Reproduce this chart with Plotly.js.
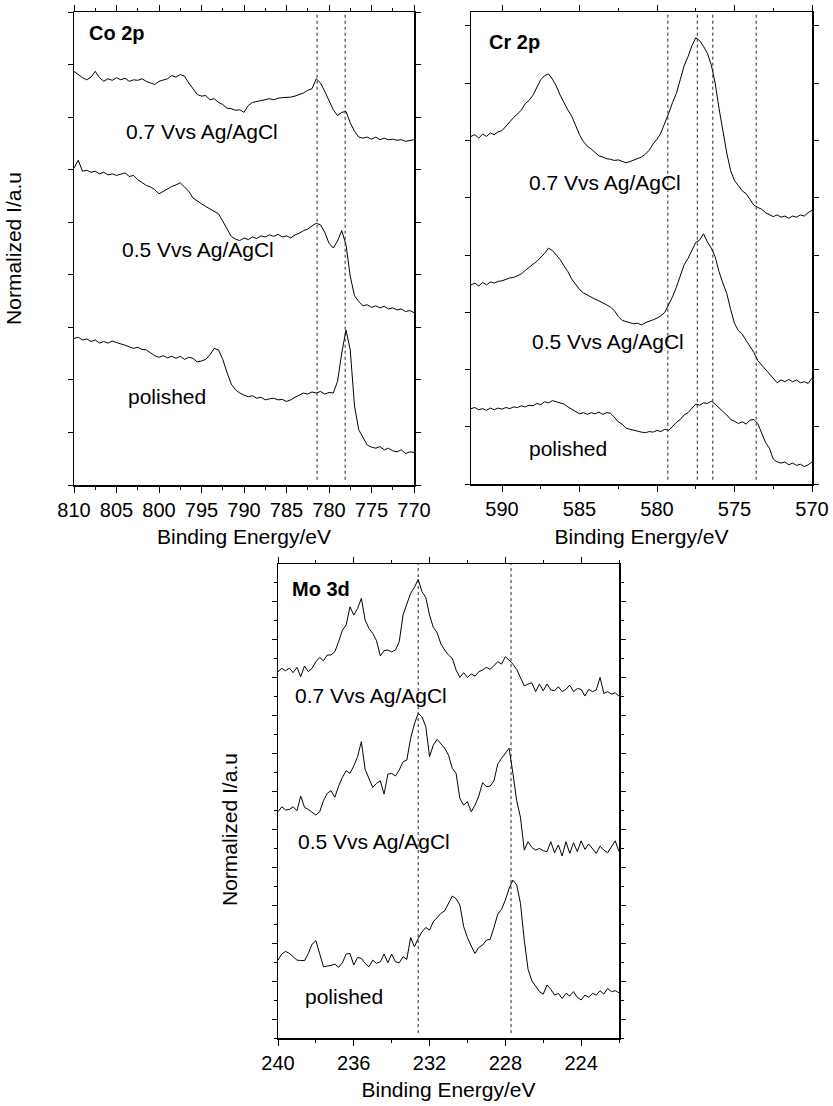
<!DOCTYPE html>
<html><head><meta charset="utf-8">
<script src="https://cdn.plot.ly/plotly-3.0.1.min.js"></script>
<style>html,body{margin:0;padding:0;background:#fff}#chart{width:833px;height:1106px}</style>
</head><body><div id="chart"></div>
<script>
// ---------- Co 2p (810 -> 770 eV, 0.5 eV step) ----------
const coStart = 810, coStep = -0.5, coN = 81;
const co07 = [7.87,7.81,7.75,7.71,7.76,7.87,7.75,7.68,7.73,7.70,
7.75,7.71,7.74,7.68,7.71,7.70,7.73,7.68,7.65,7.62,
7.68,7.71,7.73,7.79,7.76,7.81,7.78,7.65,7.54,7.43,
7.40,7.41,7.33,7.35,7.28,7.24,7.17,7.16,7.13,7.14,
7.09,7.22,7.28,7.30,7.32,7.33,7.35,7.33,7.36,7.37,
7.37,7.38,7.40,7.43,7.46,7.51,7.54,7.73,7.65,7.49,
7.33,7.14,7.03,7.09,7.11,6.89,6.73,6.62,6.60,6.62,
6.58,6.62,6.57,6.60,6.57,6.58,6.56,6.57,6.54,6.56,
6.57];
const co05 = [6.03,6.18,5.97,5.99,5.95,5.97,5.92,5.95,5.90,5.92,
5.89,5.91,5.94,5.87,5.89,5.81,5.76,5.70,5.67,5.62,
5.54,5.59,5.63,5.68,5.71,5.75,5.67,5.59,5.46,5.40,
5.35,5.30,5.25,5.21,5.16,5.02,4.86,4.73,4.68,4.65,
4.70,4.67,4.72,4.69,4.74,4.72,4.76,4.73,4.77,4.72,
4.74,4.70,4.76,4.79,4.84,4.87,4.93,4.98,4.95,4.81,
4.60,4.51,4.64,4.84,4.57,3.97,3.60,3.49,3.41,3.43,
3.38,3.41,3.37,3.40,3.35,3.37,3.33,3.35,3.30,3.32,
3.28];
const coPol = [2.79,2.81,2.76,2.78,2.73,2.76,2.70,2.73,2.70,2.74,
2.71,2.69,2.66,2.63,2.60,2.62,2.58,2.57,2.52,2.46,
2.43,2.46,2.42,2.45,2.41,2.45,2.39,2.43,2.41,2.34,
2.36,2.39,2.48,2.60,2.57,2.39,2.14,1.92,1.81,1.75,
1.71,1.68,1.70,1.65,1.67,1.62,1.64,1.65,1.62,1.63,
1.59,1.62,1.67,1.71,1.75,1.73,1.77,1.75,1.78,1.73,
1.76,1.75,1.97,2.51,2.95,2.57,1.50,1.05,0.89,0.76,
0.72,0.70,0.73,0.67,0.70,0.65,0.63,0.67,0.60,0.63,
0.62];
const coLines = [781.4, 778.1];

// ---------- Cr 2p (592 -> 570 eV, 0.25 eV step) ----------
const crStart = 592, crStep = -0.25, crN = 89;
const cr07 = [6.07,6.10,6.04,6.11,6.07,6.13,6.10,6.15,6.17,6.25,
6.31,6.40,6.46,6.53,6.64,6.70,6.79,6.93,7.06,7.13,
7.16,7.07,6.95,6.79,6.65,6.53,6.42,6.25,6.10,5.98,
5.90,5.85,5.79,5.73,5.71,5.68,5.67,5.65,5.66,5.63,
5.61,5.63,5.66,5.68,5.71,5.76,5.83,5.94,6.02,6.13,
6.29,6.47,6.66,6.82,7.06,7.30,7.46,7.65,7.79,7.74,
7.64,7.52,7.32,7.00,6.56,6.13,5.78,5.47,5.30,5.21,
5.12,5.07,4.96,4.87,4.83,4.80,4.74,4.70,4.67,4.70,
4.66,4.68,4.64,4.68,4.66,4.70,4.68,4.74,4.78];
const cr05 = [3.48,3.51,3.46,3.52,3.48,3.53,3.51,3.54,3.55,3.58,
3.60,3.61,3.64,3.67,3.73,3.79,3.84,3.89,3.96,4.03,
4.12,4.08,4.00,3.92,3.81,3.71,3.58,3.48,3.40,3.34,
3.30,3.26,3.23,3.20,3.17,3.13,3.09,3.03,2.93,2.86,
2.84,2.82,2.80,2.81,2.78,2.82,2.84,2.87,2.90,2.94,
3.00,3.13,3.27,3.44,3.62,3.83,3.94,4.08,4.22,4.26,
4.37,4.23,4.12,3.97,3.71,3.51,3.33,3.05,2.81,2.68,
2.62,2.51,2.40,2.30,2.16,2.08,2.01,1.94,1.85,1.77,
1.82,1.79,1.83,1.79,1.82,1.77,1.79,1.76,1.85];
const crPol = [1.32,1.34,1.30,1.32,1.29,1.33,1.30,1.33,1.31,1.34,
1.32,1.35,1.34,1.37,1.35,1.38,1.37,1.41,1.39,1.44,
1.42,1.46,1.44,1.42,1.40,1.35,1.31,1.27,1.23,1.25,
1.22,1.25,1.23,1.26,1.22,1.25,1.24,1.17,1.09,1.05,
0.98,0.96,0.94,0.92,0.91,0.90,0.92,0.91,0.94,0.92,
0.96,0.94,1.02,1.08,1.13,1.21,1.25,1.33,1.40,1.38,
1.42,1.41,1.45,1.40,1.33,1.27,1.21,1.13,1.10,1.06,
1.09,1.05,1.12,1.13,1.06,0.90,0.73,0.63,0.44,0.39,
0.37,0.39,0.34,0.37,0.33,0.35,0.31,0.34,0.39];
const crLines = [579.3, 577.4, 576.4, 573.6];

// ---------- Mo 3d (240 -> 222 eV, 0.2 eV step) ----------
const moStart = 240, moStep = -0.2, moN = 91;
const mo07 = [19.28,19.46,19.33,19.47,19.23,19.51,19.02,19.58,19.28,19.46,
19.81,20.03,19.86,20.16,20.16,20.33,20.86,21.47,21.74,22.70,
22.26,22.61,23.14,22.00,21.56,21.30,20.91,20.11,20.39,20.42,
20.33,20.42,20.86,22.26,22.84,23.40,23.72,24.14,23.49,23.19,
22.26,21.61,21.33,20.74,20.42,20.16,19.98,19.37,18.98,19.23,
18.98,19.16,19.05,19.28,19.37,19.51,19.40,19.63,19.81,19.68,
20.07,19.89,19.68,19.40,18.93,18.53,18.63,18.70,18.23,18.63,
18.28,18.63,18.32,18.28,18.49,18.23,18.35,18.58,18.23,18.40,
18.35,18.00,18.35,18.23,18.32,18.98,18.14,18.23,18.10,18.17,
18.00];
const mo05 = [11.91,12.17,12.00,12.03,12.17,11.96,12.74,12.14,12.03,11.86,
11.74,11.91,12.49,12.88,13.02,12.67,13.26,13.72,14.07,13.93,
14.32,14.81,15.60,14.14,13.61,13.19,13.40,13.54,12.84,13.89,
13.93,13.79,14.11,14.54,14.63,15.77,16.53,17.09,16.91,16.39,
14.81,15.42,15.72,15.47,15.25,14.89,14.19,13.93,12.61,12.26,
12.44,11.91,12.26,12.74,13.44,13.23,13.26,13.54,14.42,14.72,
14.98,15.25,13.93,12.49,11.61,9.89,10.33,10.03,9.89,9.98,
9.86,9.81,10.33,9.75,10.16,9.58,10.33,9.72,10.28,9.81,
10.38,9.93,10.21,9.98,9.72,10.10,9.89,9.75,10.07,10.38,
9.81];
const moPol = [4.10,4.42,4.56,4.45,4.28,4.10,4.08,4.07,4.45,4.94,
5.12,4.36,3.75,3.79,3.82,3.89,3.72,3.96,4.42,4.45,
3.84,4.24,4.19,3.93,3.75,4.10,3.93,4.01,4.42,3.96,
4.42,4.01,3.96,4.28,4.14,5.29,4.80,5.24,5.58,5.82,
5.68,6.12,6.35,6.56,6.70,7.05,7.47,7.33,7.00,5.86,
5.29,4.84,4.45,4.77,4.89,5.15,5.19,5.82,6.52,6.77,
7.26,7.87,8.31,8.05,7.08,5.15,3.61,3.01,2.70,2.44,
2.31,2.79,2.56,2.26,2.35,2.08,2.35,2.21,2.44,2.14,
2.00,2.26,2.14,2.35,2.26,2.49,2.31,2.61,2.44,2.49,
2.38];
const moLines = [232.6, 227.7];

// ---------- text ----------
const seriesLabels = ['0.7 Vvs Ag/AgCl', '0.5 Vvs Ag/AgCl', 'polished'];
const panelNames = ['Co 2p', 'Cr 2p', 'Mo 3d'];
const xTitle = 'Binding Energy/eV';
const yTitle = 'Normalized I/a.u';

// ---------- build ----------
const FONT = 'Arial, "Liberation Sans", sans-serif';
function grid(start, step, n) { const a = []; for (let i = 0; i < n; i++) a.push(+(start + step * i).toFixed(3)); return a; }
const coX = grid(coStart, coStep, coN), crX = grid(crStart, crStep, crN), moX = grid(moStart, moStep, moN);

function tr(x, y, xa, ya, name) {
  return {x, y, xaxis: xa, yaxis: ya, name, type: 'scatter', mode: 'lines',
    line: {color: '#000', width: 1}, showlegend: false, hoverinfo: 'skip'};
}
const data = [
  tr(coX, co07, 'x', 'y', seriesLabels[0]), tr(coX, co05, 'x', 'y', seriesLabels[1]), tr(coX, coPol, 'x', 'y', seriesLabels[2]),
  tr(crX, cr07, 'x2', 'y2', seriesLabels[0]), tr(crX, cr05, 'x2', 'y2', seriesLabels[1]), tr(crX, crPol, 'x2', 'y2', seriesLabels[2]),
  tr(moX, mo07, 'x3', 'y3', seriesLabels[0]), tr(moX, mo05, 'x3', 'y3', seriesLabels[1]), tr(moX, moPol, 'x3', 'y3', seriesLabels[2])
];

const W = 833, H = 1106;
const tf = {family: FONT, size: 20, color: '#000'};
const lf = {family: FONT, size: 21, color: '#000'};
function xax(l, r, range, dtick, minor, anchor) {
  return {domain: [l / W, r / W], range, autorange: false, dtick, tick0: 0,
    ticks: 'outside', ticklen: 6, tickwidth: 1, tickcolor: '#000',
    minor: {dtick: minor, ticks: 'outside', ticklen: 3, tickwidth: 1, tickcolor: '#000'},
    showline: true, linecolor: '#000', linewidth: 1.5, mirror: 'ticks',
    showgrid: false, zeroline: false, tickfont: tf, anchor,
    title: {text: xTitle, font: lf, standoff: 10}, fixedrange: true};
}
function yax(top, bottom, range, tick0, dtick, minor, anchor, title, standoff) {
  const a = {domain: [1 - bottom / H, 1 - top / H], range, autorange: false, tick0, dtick,
    ticks: 'outside', ticklen: 5, tickwidth: 1, tickcolor: '#000', showticklabels: false,
    showline: true, linecolor: '#000', linewidth: 1.5, mirror: 'ticks',
    showgrid: false, zeroline: false, anchor, fixedrange: true};
  if (minor) a.minor = {dtick: minor, ticks: 'outside', ticklen: 3, tickwidth: 1, tickcolor: '#000'};
  if (title) a.title = {text: title, font: lf, standoff};
  return a;
}

const shapes = [];
function vlines(arr, xr, yr, y0, y1) {
  arr.forEach(v => shapes.push({type: 'line', xref: xr, yref: yr, x0: v, x1: v, y0, y1,
    line: {color: '#222', width: 1, dash: 'dot'}}));
}
vlines(coLines, 'x', 'y', 0.1, 9);
vlines(crLines, 'x2', 'y2', 0.08, 8.24);
vlines(moLines, 'x3', 'y3', 0.26, 24.95);

function ann(text, x, y, xr, yr, xanchor, bold) {
  return {text: bold ? '<b>' + text + '</b>' : text, x, y, xref: xr, yref: yr, showarrow: false,
    xanchor: xanchor || 'center', yanchor: 'middle', font: bold ? tf : lf};
}
const annotations = [
  ann(panelNames[0], 808.5, 8.61, 'x', 'y', 'left', true),
  ann(seriesLabels[0], 794.9, 6.72, 'x', 'y'),
  ann(seriesLabels[1], 795.4, 4.48, 'x', 'y'),
  ann(seriesLabels[2], 799.1, 1.68, 'x', 'y'),
  ann(panelNames[1], 591.0, 7.72, 'x2', 'y2', 'left', true),
  ann(seriesLabels[0], 583.35, 5.26, 'x2', 'y2'),
  ann(seriesLabels[1], 583.16, 2.50, 'x2', 'y2'),
  ann(seriesLabels[2], 585.74, 0.62, 'x2', 'y2'),
  ann(panelNames[2], 239.37, 23.63, 'x3', 'y3', 'left', true),
  ann(seriesLabels[0], 235.1, 18.05, 'x3', 'y3'),
  ann(seriesLabels[1], 234.95, 10.32, 'x3', 'y3'),
  ann(seriesLabels[2], 236.53, 2.16, 'x3', 'y3'),
  // Mo panel y title sits below the panel centre in the reference
  {text: yTitle, x: 229 / W, y: 1 - 830 / H, xref: 'paper', yref: 'paper', showarrow: false,
    textangle: -90, xanchor: 'center', yanchor: 'middle', font: lf}
];

const layout = {
  width: W, height: H, margin: {l: 0, r: 0, t: 0, b: 0},
  paper_bgcolor: '#fff', plot_bgcolor: '#fff', showlegend: false,
  font: tf,
  xaxis: xax(74, 414, [810, 770], 5, 2.5, 'y'),
  yaxis: yax(12, 485, [0, 9], 0, 1, null, 'x', yTitle, 40),
  xaxis2: xax(471, 812, [592, 570], 5, 2.5, 'y2'),
  yaxis2: yax(12, 484.3, [0, 8.24], 0, 1, null, 'x2', null, 0),
  xaxis3: xax(278, 619, [240, 222], 4, 2, 'y3'),
  yaxis3: yax(564, 1038, [0, 24.95], 1, 2, 1, 'x3', null, 0),
  shapes, annotations
};
Plotly.newPlot('chart', data, layout, {staticPlot: true, displayModeBar: false});
</script>
</body></html>
